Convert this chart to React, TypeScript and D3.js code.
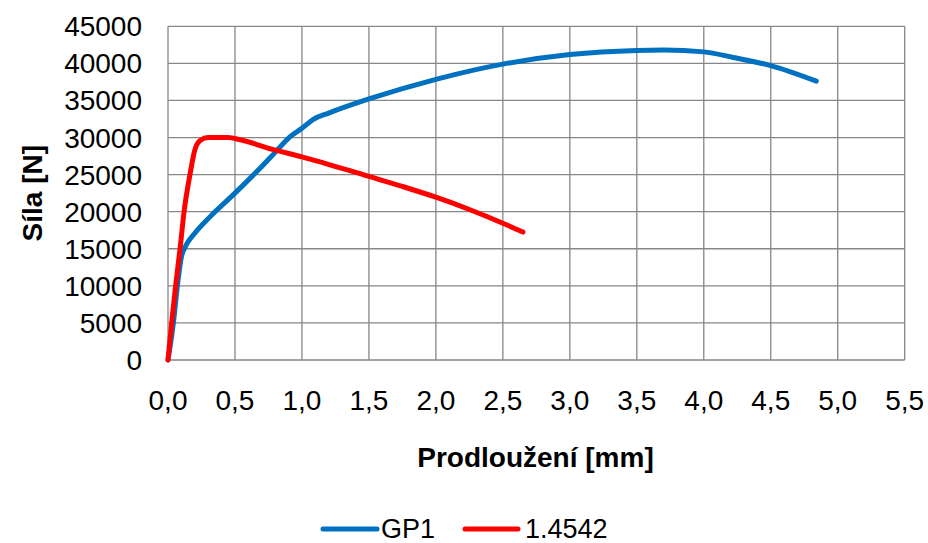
import React from "react";
import * as d3 from "d3";

const xTicks = [0, 0.5, 1, 1.5, 2, 2.5, 3, 3.5, 4, 4.5, 5, 5.5];
const yTicks = [0, 5000, 10000, 15000, 20000, 25000, 30000, 35000, 40000, 45000];

const gp1X = [0, 0.04, 0.07, 0.1, 0.13, 0.2, 0.313, 0.5, 0.687, 0.8, 0.91, 1.0, 1.085, 1.2, 1.5, 2.0, 2.5, 3.0, 3.5, 3.7, 4.0, 4.22, 4.5, 4.84];
const gp1Y = [0, 5000, 10000, 13900, 15300, 17100, 19300, 22500, 25850, 28000, 30100, 31250, 32450, 33300, 35200, 37850, 39900, 41200, 41750, 41800, 41550, 40800, 39700, 37600];

const redX = [0, 0.027, 0.057, 0.09, 0.12, 0.164, 0.2, 0.24, 0.3, 0.45, 0.54, 0.78, 1.0, 1.5, 1.75, 2.0, 2.25, 2.5, 2.65];
const redY = [0, 5000, 10000, 15000, 20000, 25000, 28300, 29600, 30000, 30000, 29700, 28400, 27400, 24750, 23400, 21950, 20300, 18450, 17250];

const seriesNames = ["GP1", "1.4542"];
const seriesColors = ["#0070C0", "#FF0000"];

const FONT = "Arial, 'Liberation Sans', sans-serif";

export default function App() {
  const W = 928, H = 543;
  const left = 168, right = 904.7, top = 26.3, bottom = 360;
  const x = d3.scaleLinear().domain([0, 5.5]).range([left, right]);
  const y = d3.scaleLinear().domain([0, 45000]).range([bottom, top]);
  const line = d3
    .line<[number, number]>()
    .x((d) => x(d[0]))
    .y((d) => y(d[1]))
    .curve(d3.curveMonotoneX);
  const gp1 = gp1X.map((v, i) => [v, gp1Y[i]] as [number, number]);
  const red = redX.map((v, i) => [v, redY[i]] as [number, number]);
  const fmt = (v: number) => v.toFixed(1).replace(".", ",");
  const grid = "#878787";

  return (
    <div style={{ position: "fixed", left: 0, top: 0 }}>
      <svg width={W} height={H} style={{ display: "block", background: "#fff" }} fontFamily={FONT}>
        {yTicks.map((t) => (
          <line key={"gy" + t} x1={left} x2={right} y1={y(t)} y2={y(t)} stroke={grid} strokeWidth={1.3} />
        ))}
        {xTicks.map((t) => (
          <line key={"gx" + t} x1={x(t)} x2={x(t)} y1={top} y2={bottom} stroke={grid} strokeWidth={1.3} />
        ))}
        {yTicks.map((t) => (
          <text key={"ty" + t} x={142} y={y(t) + 10} textAnchor="end" fontSize={28} fill="#000">
            {t}
          </text>
        ))}
        {xTicks.map((t) => (
          <text key={"tx" + t} x={x(t)} y={410} textAnchor="middle" fontSize={28} fill="#000">
            {fmt(t)}
          </text>
        ))}
        <path d={line(gp1) || ""} fill="none" stroke={seriesColors[0]} strokeWidth={5} strokeLinecap="round" strokeLinejoin="round" />
        <path d={line(red) || ""} fill="none" stroke={seriesColors[1]} strokeWidth={5} strokeLinecap="round" strokeLinejoin="round" />
        <text x={535.5} y={466.5} textAnchor="middle" fontSize={28} fontWeight="bold" fill="#000">
          Prodloužení [mm]
        </text>
        <text
          transform={`translate(41.5, ${(top + bottom) / 2}) rotate(-90)`}
          textAnchor="middle"
          fontSize={28}
          fontWeight="bold"
          fill="#000"
        >
          Síla [N]
        </text>
        <line x1={323} x2={377} y1={529} y2={529} stroke={seriesColors[0]} strokeWidth={5} strokeLinecap="round" />
        <text x={381} y={537.5} fontSize={27} fill="#000">{seriesNames[0]}</text>
        <line x1={465} x2={518} y1={529} y2={529} stroke={seriesColors[1]} strokeWidth={5} strokeLinecap="round" />
        <text x={525} y={537.5} fontSize={27} fill="#000">{seriesNames[1]}</text>
      </svg>
    </div>
  );
}
